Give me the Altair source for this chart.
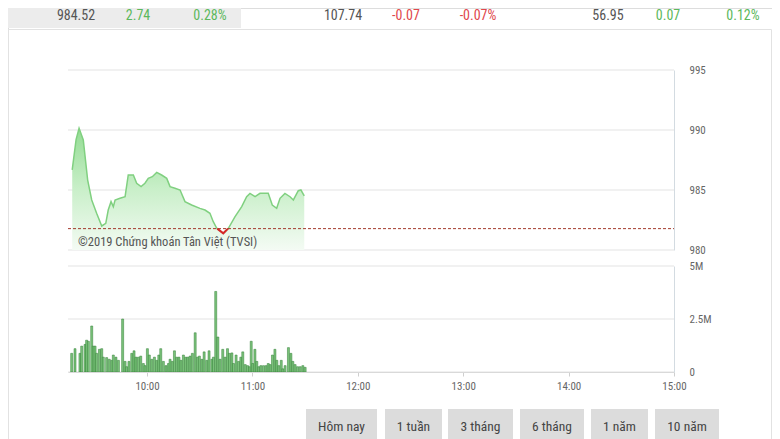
import altair as alt
import pandas as pd

# ---------------- data ----------------
header_labels = ["984.52", "2.74", "0.28%", "107.74", "-0.07", "-0.07%", "56.95", "0.07", "0.12%"]
header_kinds = ["value", "up", "up", "value", "down", "down", "value", "up", "up"]

# minutes since midnight, index level
price_time = [557.4, 559.6, 561.3, 563.7, 566.2, 568.5, 571.3, 574.2, 576.5, 577.9,
              579.5, 580.8, 581.8, 584.6, 587.5, 589.3, 592.2, 594.1, 596.6, 598.8,
              600.7, 603.0, 605.5, 608.3, 611.2, 613.1, 615.9, 618.8, 621.6, 625.4,
              630.1, 633.0, 635.8, 637.7, 639.7, 643.4, 646.3, 650.1, 653.9, 656.7,
              658.6, 661.5, 664.3, 669.0, 671.3, 673.8, 675.7, 678.5, 681.4, 683.3,
              686.1, 687.6, 689.5]
price_value = [986.67, 989.2, 990.14, 989.17, 985.83, 984.17, 983.06, 982.0, 982.22, 983.33,
               984.03, 983.61, 984.17, 984.31, 984.44, 986.25, 986.25, 985.56, 985.28, 985.56,
               985.97, 986.11, 986.47, 986.25, 985.97, 985.28, 985.14, 985.0, 984.03, 983.75,
               983.47, 983.33, 983.06, 982.36, 981.81, 981.39, 981.81, 982.78, 983.61, 984.44,
               984.72, 984.44, 984.72, 984.72, 983.75, 983.47, 984.31, 984.72, 984.44, 984.17,
               984.94, 985.0, 984.52]
ref_price = 981.78

vol_time = [557.1, 559.0, 561.8, 562.8, 564.7, 565.6, 566.6, 568.5, 569.4, 570.4,
            571.3, 572.9, 574.2, 575.1, 577.0, 578.5, 579.9, 580.8, 582.3, 583.7,
            586.1, 587.5, 588.4, 589.7, 591.3, 592.6, 593.7, 595.1, 596.4, 597.9,
            598.9, 600.2, 601.3, 602.7, 604.2, 605.5, 606.7, 607.8, 609.3, 610.8,
            612.2, 613.1, 614.4, 615.6, 616.9, 618.2, 619.4, 620.7, 622.0, 623.2,
            624.5, 625.8, 627.4, 628.7, 629.8, 631.2, 632.5, 634.0, 635.3, 636.9,
            637.8, 639.1, 640.3, 641.6, 643.1, 644.5, 645.8, 646.9, 648.3, 649.2,
            650.7, 652.1, 653.4, 654.5, 655.9, 657.2, 658.3, 659.3, 660.2, 661.4,
            662.5, 663.6, 664.8, 666.3, 667.8, 669.0, 670.1, 671.4, 672.8, 673.9,
            675.0, 676.4, 677.3, 678.6, 680.5, 681.9, 683.0, 684.3, 685.7, 687.2,
            688.7, 690.0]
vol_value = [0.88, 1.1, 0.88, 1.22, 1.3, 1.5, 1.45, 2.17, 1.22, 1.22,
             0.88, 1.07, 1.1, 0.7, 0.68, 0.6, 0.55, 0.8, 0.7, 0.55,
             2.5, 0.5, 0.25, 0.5, 0.88, 1.0, 0.7, 0.7, 0.75, 0.4,
             0.3, 1.1, 0.8, 0.6, 0.7, 0.55, 0.8, 1.1, 0.5, 0.3,
             0.4, 0.6, 0.5, 1.0, 0.7, 0.7, 0.55, 0.8, 0.7, 0.7,
             0.75, 0.88, 1.85, 0.7, 0.75, 0.6, 0.95, 0.55, 1.0, 0.6,
             0.7, 3.8, 1.65, 0.6, 1.07, 0.7, 1.1, 0.88, 0.9, 0.4,
             0.8, 0.5, 0.7, 0.95, 0.35, 0.3, 0.25, 1.45, 0.4, 1.07,
             0.5, 0.25, 0.3, 0.3, 0.3, 0.4, 0.35, 0.8, 1.07, 0.55,
             0.3, 0.55, 0.15, 0.3, 1.15, 0.88, 0.5, 0.35, 0.25, 0.25,
             0.3, 0.22]  # millions

price_ticks = [980, 985, 990, 995]
vol_ticks = [0, 2.5, 5]
hour_ticks = [600, 660, 720, 780, 840, 900]
session = [555, 900]
buttons = ["Hôm nay", "1 tuần", "3 tháng", "6 tháng", "1 năm", "10 năm"]
copyright_text = "©2019 Chứng khoán Tân Việt (TVSI)"

# ---------------- layout / style ----------------
W, H = 764, 431
X_RANGE = [60, 666]
P_RANGE = [242, 62]
V_RANGE = [364, 258]
FONT = "Liberation Sans Narrow, Roboto Condensed, Arial Narrow, Roboto, sans-serif"
header_x = [68, 130, 202, 335, 398, 470, 600, 660, 735]
kind_color = {"value": "#555555", "up": "#5cb85c", "down": "#e0474c"}
button_x0 = [298, 377, 440, 512, 583, 647]
button_x1 = [369, 434, 505, 576, 640, 711]

one = pd.DataFrame({"k": [0]})


def deco_rect(x0, x1, y0, y1, **kw):
    return alt.Chart(one).mark_rect(**kw).encode(
        x=alt.value(x0), x2=alt.value(x1), y=alt.value(y0), y2=alt.value(y1))


def deco_text(txt, x, y, **kw):
    return alt.Chart(one).mark_text(**kw).encode(
        x=alt.value(x), y=alt.value(y), text=alt.value(txt))


# scales and axes
xscale = alt.Scale(domain=session, range=X_RANGE, zero=False, nice=False, padding=0)
xaxis = alt.Axis(values=hour_ticks, labelExpr="floor(datum.value/60) + ':00'", title=None,
                 orient="bottom", offset=V_RANGE[0] - H, grid=False, zindex=2,
                 domainColor="#d9d9d9", tickColor="#cfcfcf", tickSize=4, labelPadding=4,
                 labelColor="#666666", labelFontSize=11, labelFont=FONT,
                 labelFlush=False, labelOverlap=False)
pscale = alt.Scale(domain=[price_ticks[0], price_ticks[-1]], range=P_RANGE, zero=False, nice=False)
paxis = alt.Axis(orient="right", offset=X_RANGE[1] - W, values=price_ticks, title=None,
                 grid=False, ticks=False, domainColor="#d3dbe1", labelPadding=15, zindex=2,
                 labelColor="#666666", labelFontSize=11, labelFont=FONT,
                 labelAlign="left", labelBaseline="middle", labelOverlap=False)
vscale = alt.Scale(domain=[vol_ticks[0], vol_ticks[-1]], range=V_RANGE, zero=False, nice=False)
vaxis = alt.Axis(orient="right", offset=X_RANGE[1] - W, values=vol_ticks, title=None,
                 labelExpr="datum.value == 0 ? '0' : datum.value + 'M'", zindex=2,
                 grid=False, ticks=False, domainColor="#d3dbe1", labelPadding=15,
                 labelColor="#666666", labelFontSize=11, labelFont=FONT,
                 labelAlign="left", labelBaseline="middle", labelOverlap=False)

# ---------------- price panel ----------------
price_df = pd.DataFrame({"t": price_time, "price": price_value})

seg_t, seg_p = [], []
for i in range(len(price_time)):
    p = price_value[i]
    if i > 0:
        p0 = price_value[i - 1]
        if (p0 - ref_price) * (p - ref_price) < 0:
            f = (ref_price - p0) / (p - p0)
            seg_t.append(price_time[i - 1] + f * (price_time[i] - price_time[i - 1]))
            seg_p.append(ref_price)
    if p < ref_price:
        seg_t.append(price_time[i])
        seg_p.append(p)
red_df = pd.DataFrame({"t": seg_t, "price": seg_p})

pgrid_df = pd.DataFrame({"price": price_ticks, "t0": session[0], "t1": session[1]})
ref_df = pd.DataFrame({"price": [ref_price], "t0": [session[0]], "t1": [session[1]]})

X = alt.X("t:Q", scale=xscale, axis=xaxis)
X0 = alt.X("t0:Q", scale=xscale, axis=xaxis)
YP = alt.Y("price:Q", scale=pscale, axis=paxis)

gradient = {"gradient": "linear", "x1": 0, "x2": 0, "y1": 0, "y2": 1,
            "stops": [{"offset": 0, "color": "#93dc93"},
                      {"offset": 0.5, "color": "#c9efc9"},
                      {"offset": 1, "color": "#f4fbf4"}]}

pgrid = alt.Chart(pgrid_df).mark_rule(color="#e3e3e3", strokeWidth=1).encode(x=X0, x2="t1:Q", y=YP)
parea = alt.Chart(price_df).mark_area(color=gradient).encode(x=X, y=YP, y2=alt.datum(price_ticks[0]))
pline = alt.Chart(price_df).mark_line(color="#80d080", strokeWidth=1.5).encode(x=X, y=YP)
pred = alt.Chart(red_df).mark_line(color="#d62828", strokeWidth=2).encode(x=X, y=YP)
pref = alt.Chart(ref_df).mark_rule(color="#a33a2c", strokeDash=[3, 2], strokeWidth=1).encode(
    x=X0, x2="t1:Q", y=YP)
price_layer = alt.layer(pgrid, parea, pline, pref, pred)

# ---------------- volume panel ----------------
vol_df = pd.DataFrame({"t": vol_time, "vol": vol_value})
vgrid_df = pd.DataFrame({"vol": vol_ticks, "t0": session[0], "t1": session[1]})
YV = alt.Y("vol:Q", scale=vscale, axis=vaxis)
vgrid = alt.Chart(vgrid_df).mark_rule(color="#e3e3e3", strokeWidth=1).encode(x=X0, x2="t1:Q", y=YV)
vbars = alt.Chart(vol_df).mark_bar(width=2, fill="#7cc47c", stroke="#2e7d32", strokeWidth=0.5).encode(
    x=X, y=YV, y2=alt.datum(0))
vol_layer = alt.layer(vgrid, vbars)

# ---------------- decorations ----------------
decor = [
    deco_rect(0.5, 763.5, 21.5, 445, fill="white", stroke="#e2e2e2", strokeWidth=1),
    deco_rect(0, 233, 0, 20, fill="#ececec"),
]
for lab, kind, hx in zip(header_labels, header_kinds, header_x):
    decor.append(deco_text(lab, hx, 12, font=FONT, fontSize=14, color=kind_color[kind],
                           align="center", baseline="alphabetic"))

top_decor = [deco_text(copyright_text, 70, 234, font=FONT, fontSize=12.5, color="#555555",
                       align="left", baseline="middle")]
for lab, bx0, bx1 in zip(buttons, button_x0, button_x1):
    top_decor.append(deco_rect(bx0, bx1, 401, 445, fill="#dcdcdc"))
    top_decor.append(deco_text(lab, (bx0 + bx1) / 2, 419, font=FONT, fontSize=13.5,
                               color="#444444", align="center", baseline="middle"))

chart = alt.layer(*decor, price_layer, vol_layer, *top_decor).resolve_scale(
    y="independent"
).properties(
    width=W, height=H, padding=0, autosize=alt.AutoSizeParams(type="none")
).configure_view(strokeWidth=0).configure(background="white")

chart.save("out.html", embed_options={"renderer": "svg", "actions": False})
